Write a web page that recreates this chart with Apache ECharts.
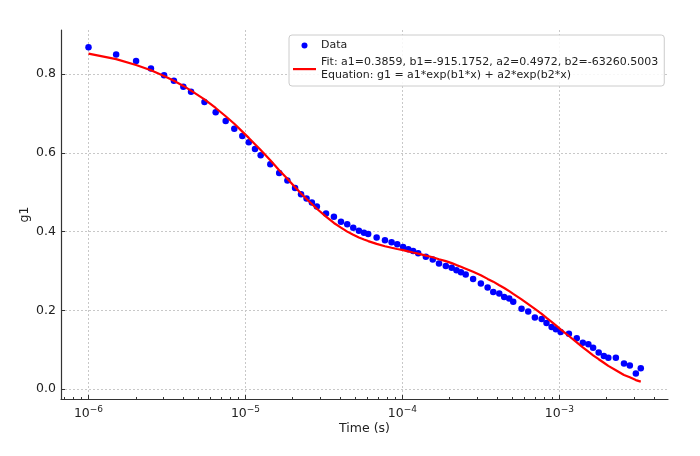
<!DOCTYPE html>
<html>
<head>
<meta charset="utf-8">
<script src="https://cdn.jsdelivr.net/npm/echarts@6/dist/echarts.min.js"></script>
<style>
html,body{margin:0;padding:0;background:#fff;}
#chart{width:700px;height:456px;}
</style>
</head>
<body>
<div id="chart"></div>
<script>
// Time values (s)
const times = [1.0e-6,1.5e-6,2.01e-6,2.5e-6,3.03e-6,3.5e-6,4.02e-6,4.5e-6,5.48e-6,6.46e-6,
  7.48e-6,8.49e-6,9.55e-6,1.05e-5,1.15e-5,1.25e-5,1.44e-5,1.64e-5,1.85e-5,2.07e-5,
  2.26e-5,2.45e-5,2.65e-5,2.85e-5,3.26e-5,3.66e-5,4.06e-5,4.45e-5,4.86e-5,5.28e-5,
  5.69e-5,6.05e-5,6.85e-5,7.74e-5,8.53e-5,9.27e-5,1.01e-4,1.09e-4,1.17e-4,1.26e-4,
  1.41e-4,1.56e-4,1.71e-4,1.89e-4,2.06e-4,2.21e-4,2.36e-4,2.53e-4,2.82e-4,3.16e-4,
  3.49e-4,3.79e-4,4.14e-4,4.45e-4,4.79e-4,5.08e-4,5.74e-4,6.33e-4,6.98e-4,7.71e-4,
  8.28e-4,8.92e-4,9.50e-4,1.018e-3,1.15e-3,1.29e-3,1.41e-3,1.53e-3,1.64e-3,1.78e-3,
  1.92e-3,2.05e-3,2.29e-3,2.58e-3,2.81e-3,3.07e-3,3.30e-3];
// Measured g1
const g1Data = [0.868,0.850,0.833,0.814,0.797,0.783,0.768,0.755,0.729,0.703,
  0.681,0.661,0.643,0.627,0.610,0.594,0.571,0.549,0.530,0.511,
  0.495,0.484,0.474,0.464,0.446,0.438,0.425,0.419,0.410,0.402,
  0.397,0.394,0.385,0.378,0.373,0.368,0.361,0.355,0.351,0.345,
  0.336,0.329,0.319,0.313,0.308,0.302,0.297,0.291,0.280,0.268,
  0.258,0.247,0.243,0.234,0.230,0.222,0.204,0.197,0.182,0.178,
  0.168,0.158,0.152,0.145,0.141,0.129,0.118,0.114,0.105,0.093,
  0.084,0.080,0.080,0.065,0.060,0.040,0.053];
// Fit curve values (read at the same times)
const g1Fit = [0.852,0.838,0.823,0.810,0.795,0.783,0.770,0.758,0.736,0.714,
  0.693,0.674,0.654,0.638,0.622,0.607,0.581,0.556,0.534,0.513,
  0.497,0.483,0.470,0.458,0.438,0.422,0.410,0.400,0.392,0.385,
  0.380,0.376,0.369,0.363,0.359,0.356,0.353,0.350,0.347,0.344,
  0.339,0.335,0.330,0.325,0.320,0.315,0.311,0.306,0.298,0.289,
  0.280,0.273,0.264,0.257,0.249,0.242,0.228,0.216,0.204,0.191,
  0.181,0.171,0.162,0.152,0.135,0.119,0.106,0.095,0.086,0.076,
  0.067,0.059,0.048,0.036,0.030,0.023,0.019];
// Tick values
const xMajorTicks = [1e-6,1e-5,1e-4,1e-3];
const xMinorTicks = [7e-7,8e-7,9e-7,2e-6,3e-6,4e-6,5e-6,6e-6,7e-6,8e-6,9e-6,
  2e-5,3e-5,4e-5,5e-5,6e-5,7e-5,8e-5,9e-5,2e-4,3e-4,4e-4,5e-4,6e-4,7e-4,8e-4,9e-4,
  2e-3,3e-3,4e-3];
const yTicks = [0.0,0.2,0.4,0.6,0.8];

const DATA_NAME = 'Data';
const FIT_NAME = 'Fit: a1=0.3859, b1=-915.1752, a2=0.4972, b2=-63260.5003\nEquation: g1 = a1*exp(b1*x) + a2*exp(b2*x)';
const FONT = 'DejaVu Sans';
const X_MIN = 6.68e-7, X_MAX = 4.92e-3;

const chart = echarts.init(document.getElementById('chart'), null, {renderer:'canvas'});
chart.setOption({
  animation:false,
  backgroundColor:'#ffffff',
  textStyle:{fontFamily:FONT},
  grid:{left:61,right:32,top:30,bottom:57,containLabel:false},
  legend:{
    left:289, top:35, orient:'vertical',
    padding:[4,6,4,4], itemGap:4, itemWidth:23, itemHeight:12,
    backgroundColor:'rgba(255,255,255,0.85)', borderColor:'#cccccc', borderWidth:1, borderRadius:3,
    textStyle:{fontFamily:FONT,fontSize:11,color:'#222',lineHeight:13},
    data:[
      {name:DATA_NAME, icon:'path://M0,0M23,12M8.5,6a3,3 0 1,0 6,0a3,3 0 1,0 -6,0'},
      {name:FIT_NAME, icon:'path://M0,0M23,12M0,5h23v2.2h-23z', itemStyle:{color:'#ff0000'}}
    ]
  },
  xAxis:[{
    type:'log', logBase:10, min:X_MIN, max:X_MAX,
    name:'Time (s)', nameLocation:'middle', nameGap:23, nameMoveOverlap:false,
    nameTextStyle:{fontFamily:FONT,fontSize:12.5,color:'#222'},
    axisLine:{show:true,onZero:false,lineStyle:{color:'#333',width:1.2}},
    axisTick:{show:true,inside:true,length:4,customValues:xMajorTicks,lineStyle:{color:'#333'}},
    axisLabel:{show:true,customValues:xMajorTicks,margin:6,fontFamily:FONT,fontSize:12.5,color:'#222',
      formatter:function(v){return '10{sup|\u2212'+Math.round(-Math.log10(v))+'}';},
      rich:{sup:{fontFamily:FONT,fontSize:9,color:'#222',padding:[0,0,8,0]}}},
    splitLine:{show:true,lineStyle:{color:'#c8c8c8',type:[2,2],width:1}},
    minorTick:{show:false}
  },{
    type:'log', logBase:10, min:X_MIN, max:X_MAX, gridIndex:0, position:'bottom',
    axisLine:{show:false,onZero:false},
    axisTick:{show:true,inside:true,length:2,customValues:xMinorTicks,lineStyle:{color:'#333'}},
    axisLabel:{show:false},
    splitLine:{show:false}
  }],
  yAxis:{
    type:'value', min:-0.025, max:0.912,
    name:'g1', nameLocation:'middle', nameGap:30, nameMoveOverlap:false,
    nameTextStyle:{fontFamily:FONT,fontSize:12.5,color:'#222'},
    axisLine:{show:true,onZero:false,lineStyle:{color:'#333',width:1.2}},
    axisTick:{show:true,inside:true,length:4,customValues:yTicks,lineStyle:{color:'#333'}},
    axisLabel:{customValues:yTicks,margin:5,fontFamily:FONT,fontSize:12.5,color:'#222',
      formatter:function(v){return v.toFixed(1);}},
    splitLine:{show:true,lineStyle:{color:'#c8c8c8',type:[2,2],width:1}}
  },
  series:[{
    name:DATA_NAME, type:'scatter', xAxisIndex:0,
    data:times.map((t,i)=>[t,g1Data[i]]),
    symbol:'circle', symbolSize:6.5,
    itemStyle:{color:'#0000ff',opacity:1}, z:2
  },{
    name:FIT_NAME, type:'line', xAxisIndex:0,
    data:times.map((t,i)=>[t,g1Fit[i]]),
    showSymbol:false, symbol:'none', smooth:false,
    lineStyle:{color:'#ff0000',width:2.2}, itemStyle:{color:'#ff0000'}, z:3
  }]
});
</script>
</body>
</html>
